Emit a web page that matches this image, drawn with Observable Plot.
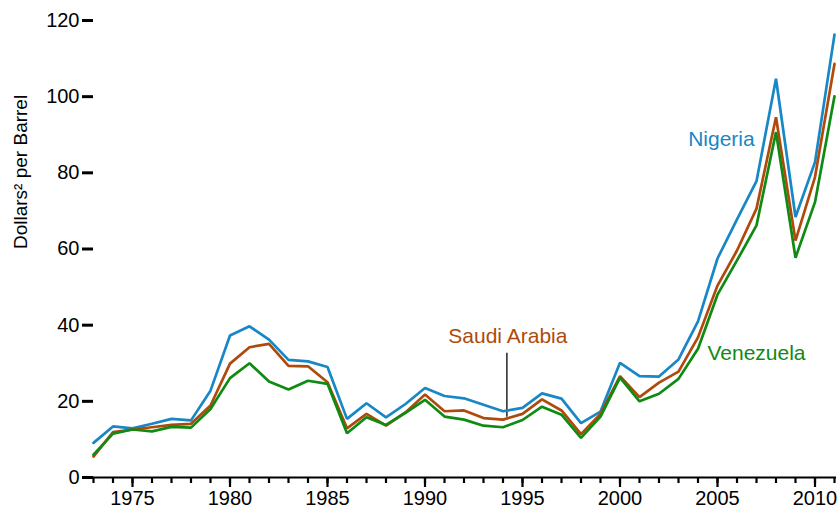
<!DOCTYPE html>
<html>
<head>
<meta charset="utf-8">
<script src="https://cdn.jsdelivr.net/npm/d3@7"></script>
<script src="https://cdn.jsdelivr.net/npm/@observablehq/plot@0.6"></script>
<style>
  html, body { margin: 0; padding: 0; background: #fff; }
  #chart svg { display: block; }
</style>
</head>
<body>
<div id="chart"></div>
<script>
const years = [1973,1974,1975,1976,1977,1978,1979,1980,1981,1982,1983,1984,1985,1986,1987,1988,1989,1990,1991,1992,1993,1994,1995,1996,1997,1998,1999,2000,2001,2002,2003,2004,2005,2006,2007,2008,2009,2010,2011];
const nigeria = [9.1,13.4,12.9,14.1,15.4,15.0,22.8,37.3,39.7,36.2,30.9,30.5,29.0,15.4,19.5,15.8,19.3,23.5,21.4,20.8,19.1,17.4,18.3,22.1,20.7,14.3,17.3,30.1,26.6,26.5,31.0,41.0,57.5,67.8,77.8,104.7,68.4,82.8,116.3];
const saudiArabia = [5.5,11.9,12.6,13.2,13.8,14.1,18.9,29.9,34.2,35.1,29.3,29.2,25.0,12.9,16.7,13.6,17.1,21.8,17.4,17.6,15.6,15.2,16.7,20.5,17.6,11.4,16.7,26.6,21.1,24.9,27.8,36.8,50.4,59.6,70.6,94.6,62.2,78.9,108.6];
const venezuela = [6.0,11.5,12.6,12.1,13.3,13.1,18.0,26.1,30.0,25.2,23.1,25.4,24.6,11.6,15.8,13.8,17.0,20.4,16.0,15.2,13.6,13.2,15.1,18.6,16.5,10.4,16.0,26.2,20.0,22.0,25.9,33.8,48.0,57.0,66.2,90.7,57.7,72.3,100.1];

const seriesNames = ["Nigeria", "Saudi Arabia", "Venezuela"];
const seriesColors = ["#1787c6", "#b04a0c", "#0f8a12"];
const yTicks = [0, 20, 40, 60, 80, 100, 120];
const xMajorTicks = [1975, 1980, 1985, 1990, 1995, 2000, 2005, 2010];
const yLabel = "Dollars² per Barrel";

// label positions (data coordinates)
const labelYears = [2005.2, 1994.25, 2007.0];
const labelValues = [88.8, 37.0, 32.6];
const leaderYear = [1994.2];
const leaderTop = [32.6];
const leaderBottom = [15.8];

const seriesValues = [nigeria, saudiArabia, venezuela];
const rows = [];
seriesNames.forEach((name, i) => {
  years.forEach((yr, j) => rows.push({series: name, year: yr, value: seriesValues[i][j]}));
});
const labels = seriesNames.map((name, i) => ({series: name, year: labelYears[i], value: labelValues[i]}));
const leader = leaderYear.map((yr, i) => ({year: yr, top: leaderTop[i], bottom: leaderBottom[i]}));

const chart = Plot.plot({
  width: 839,
  height: 513,
  marginLeft: 93,
  marginRight: 5,
  marginTop: 20,
  marginBottom: 36,
  style: {fontFamily: "'Liberation Sans', Arial, Helvetica, sans-serif", background: "#fff", color: "#000"},
  x: {domain: [1973, 2011]},
  y: {domain: [0, 120]},
  color: {domain: seriesNames, range: seriesColors},
  marks: [
    Plot.axisY({ticks: yTicks, tickSize: 11, tickPadding: 3, fontSize: 20, strokeWidth: 3, label: null}),
    Plot.text([yLabel], {frameAnchor: "left", rotate: -90, dx: -73, fontSize: 19, fill: "#000"}),
    Plot.axisX({ticks: years, tickSize: 6, tickFormat: () => "", strokeWidth: 2.2, label: null}),
    Plot.axisX({ticks: xMajorTicks, tickSize: 10, tickPadding: 3, tickFormat: d => String(d), fontSize: 20, strokeWidth: 2.2, label: null}),
    Plot.ruleY([0], {strokeWidth: 2.2, insetLeft: -6, insetRight: -2}),
    Plot.ruleX(leader, {x: "year", y1: "top", y2: "bottom", stroke: "#000", strokeWidth: 1.3}),
    Plot.line(rows, {x: "year", y: "value", z: "series", stroke: "series", strokeWidth: 2.7, strokeLinejoin: "miter"}),
    Plot.text(labels, {x: "year", y: "value", text: "series", fill: "series", fontSize: 21, textAnchor: "middle"})
  ]
});
document.getElementById("chart").appendChild(chart);
</script>
</body>
</html>
